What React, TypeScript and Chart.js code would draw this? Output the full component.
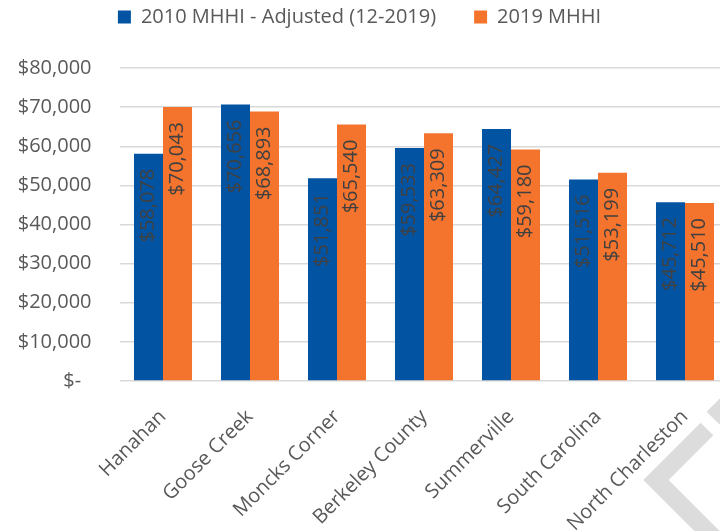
import React, { useEffect, useRef } from 'react';
import { Chart, registerables } from 'chart.js';
Chart.register(...registerables);

const categories = ['Hanahan', 'Goose Creek', 'Moncks Corner', 'Berkeley County', 'Summerville', 'South Carolina', 'North Charleston'];
const seriesNames = ['2010 MHHI - Adjusted (12-2019)', '2019 MHHI'];
const values2010 = [58078, 70656, 51851, 59533, 64427, 51516, 45712];
const values2019 = [70043, 68893, 65540, 63309, 59180, 53199, 45510];
const yMin = 0;
const yMax = 80000;
const yStep = 10000;

const BLUE = '#0254a3';
const ORANGE = '#f4742d';
const FONT = '"Open Sans", sans-serif';

const fmt = (v: number) => (v === 0 ? '$-  ' : '$' + v.toLocaleString('en-US'));

const dataLabelPlugin = {
  id: 'dataLabels',
  afterDatasetsDraw(chart: any) {
    const ctx = chart.ctx;
    ctx.save();
    ctx.font = `20px ${FONT}`;
    ctx.fillStyle = '#404040';
    chart.data.datasets.forEach((ds: any, di: number) => {
      const meta = chart.getDatasetMeta(di);
      meta.data.forEach((bar: any, i: number) => {
        ctx.save();
        ctx.translate(bar.x, bar.y + 15);
        ctx.rotate(-Math.PI / 2);
        ctx.textAlign = 'right';
        ctx.textBaseline = 'middle';
        ctx.fillText(fmt(ds.data[i]), 0, 0);
        ctx.restore();
      });
    });
    ctx.restore();
  },
};

const watermarkPlugin = {
  id: 'watermark',
  beforeDraw(chart: any) {
    const ctx = chart.ctx;
    ctx.save();
    ctx.strokeStyle = '#dcdcdc';
    ctx.lineWidth = 18;
    ctx.lineJoin = 'miter';
    ctx.lineCap = 'butt';
    ctx.beginPath();
    ctx.moveTo(707, 429);
    ctx.lineTo(656, 480);
    ctx.lineTo(715, 539);
    ctx.stroke();
    ctx.beginPath();
    ctx.moveTo(713, 418);
    ctx.lineTo(740, 391);
    ctx.stroke();
    ctx.restore();
  },
};

export default function App() {
  const ref = useRef<HTMLCanvasElement>(null);
  useEffect(() => {
    if (!ref.current) return;
    const chart = new Chart(ref.current, {
      type: 'bar',
      data: {
        labels: categories,
        datasets: [
          { label: seriesNames[0], data: values2010, backgroundColor: BLUE, categoryPercentage: 0.667, barPercentage: 1 },
          { label: seriesNames[1], data: values2019, backgroundColor: ORANGE, categoryPercentage: 0.667, barPercentage: 1 },
        ],
      },
      options: {
        responsive: false,
        animation: false,
        devicePixelRatio: 1,
        layout: { padding: { top: -31, left: -9.5, right: 6.5, bottom: 0 } },
        plugins: {
          legend: {
            position: 'top',
            labels: {
              boxWidth: 13,
              boxHeight: 13,
              padding: 38,
              color: '#595959',
              font: { family: FONT, size: 20 },
            },
          },
          title: {
            display: true,
            text: '',
            weight: 500,
            font: { size: 10, lineHeight: 1 },
            padding: { top: 0, bottom: 21 },
          },
          tooltip: { enabled: false },
        },
        scales: {
          x: {
            grid: { display: false },
            border: { display: false },
            ticks: {
              minRotation: 45,
              maxRotation: 45,
              padding: 16,
              color: '#595959',
              font: { family: FONT, size: 20 },
            },
            afterFit(scale: any) {
              scale.height = 150;
            },
          },
          y: {
            min: yMin,
            max: yMax,
            grid: { color: '#d9d9d9', lineWidth: 1.5, drawTicks: false },
            border: { display: false },
            ticks: {
              stepSize: yStep,
              padding: 28,
              color: '#595959',
              font: { family: FONT, size: 20 },
              callback: (v: any) => fmt(Number(v)),
            },
            afterFit(scale: any) {
              scale.width = 129;
            },
          },
        },
      },
      plugins: [watermarkPlugin, dataLabelPlugin],
    });
    return () => chart.destroy();
  }, []);
  return (
    <div style={{ position: 'fixed', left: 0, top: 0, width: 720, height: 531, overflow: 'hidden', background: '#fff' }}>
      <canvas ref={ref} width={735} height={531} style={{ width: 735, height: 531, display: 'block' }} />
    </div>
  );
}
